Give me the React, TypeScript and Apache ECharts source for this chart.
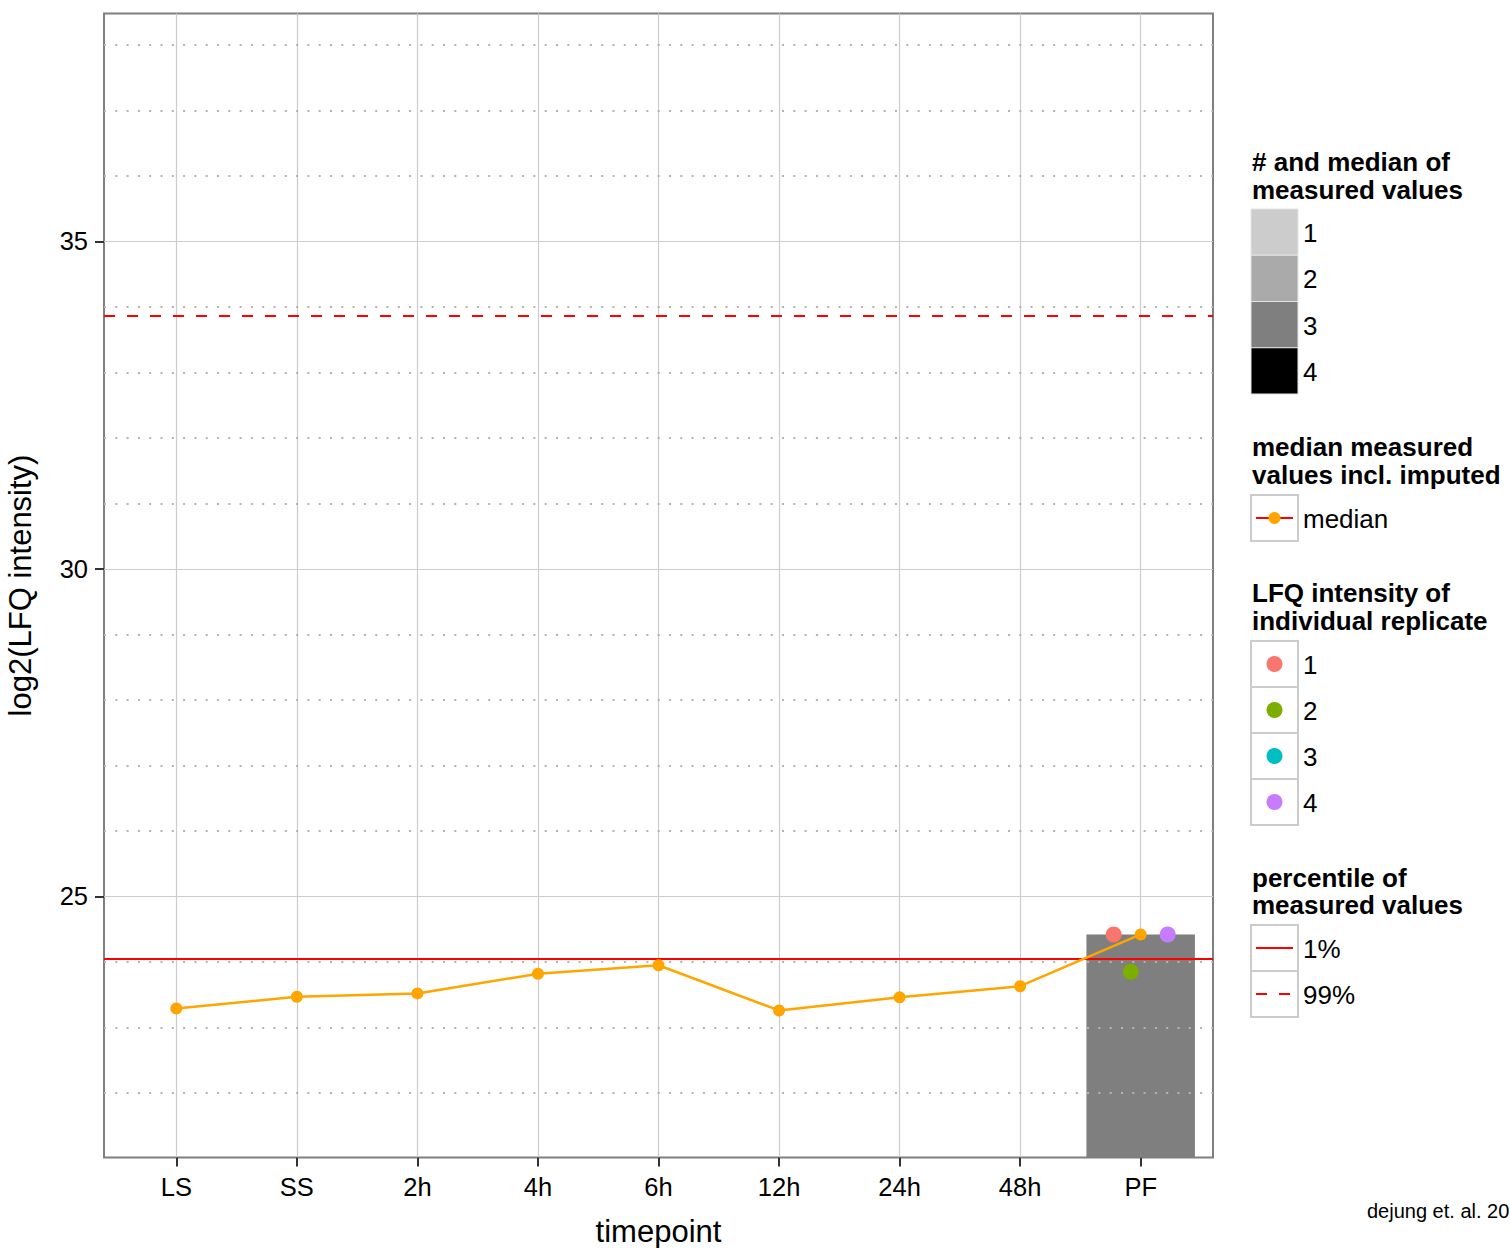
import React, { useEffect, useRef } from "react";
import * as echarts from "echarts";

const timepoints = ["LS", "SS", "2h", "4h", "6h", "12h", "24h", "48h", "PF"];
const medianValues = [23.29, 23.47, 23.52, 23.82, 23.95, 23.26, 23.46, 23.63, 24.42];
const measuredCount = [0, 0, 0, 0, 0, 0, 0, 0, 3];
const measuredMedian = [null, null, null, null, null, null, null, null, 24.42];
const replicateIds = ["1", "2", "3", "4"];
const replicateColors = ["#F8766D", "#7CAE00", "#00BFC4", "#C77CFF"];
// replicate values at PF (only PF has measured replicates)
const replicatePF = [24.42, 23.85, null, 24.42];
const replicateJitter = [-0.224, -0.083, 0.0, 0.224];
const percentileLabels = ["1%", "99%"];
const percentileValues = [24.05, 33.87];
const countLevels = ["1", "2", "3", "4"];
const countFills = ["#cccccc", "#aaaaaa", "#7f7f7f", "#000000"];
const yTicks = [25, 30, 35];
const yMinor = [22, 23, 24, 26, 27, 28, 29, 31, 32, 33, 34, 36, 37, 38];
const xTicks = [1, 2, 3, 4, 5, 6, 7, 8, 9];

const Y_MIN = 21.015;
const Y_MAX = 38.48;
const FONT = '"Liberation Sans", Arial, Helvetica, sans-serif';

function buildLegend(): any[] {
  const els: any[] = [];
  const kx = 1251;
  const kw = 47;
  const lx = 1303;
  const title = (t: string, y: number) =>
    els.push({
      type: "text",
      x: 1252,
      y,
      style: { text: t, fontSize: 26, fontWeight: "bold", fontFamily: FONT, fill: "#000", verticalAlign: "middle" },
    });
  const label = (t: string, y: number) =>
    els.push({
      type: "text",
      x: lx,
      y,
      style: { text: t, fontSize: 26, fontFamily: FONT, fill: "#000", verticalAlign: "middle" },
    });
  const box = (y: number) =>
    els.push({
      type: "rect",
      shape: { x: kx, y, width: kw, height: 46 },
      style: { fill: "#fff", stroke: "#cccccc", lineWidth: 2 },
    });

  // counts legend
  title("# and median of", 162);
  title("measured values", 190);
  countLevels.forEach((lv, i) => {
    const y = 209 + i * 46.25;
    els.push({
      type: "rect",
      shape: { x: kx, y, width: kw, height: 46.25 },
      style: { fill: countFills[i], stroke: "#e4e4e4", lineWidth: 1 },
    });
    label(lv, y + 24);
  });

  // median legend
  title("median measured", 447);
  title("values incl. imputed", 475);
  box(495);
  els.push({
    type: "line",
    shape: { x1: 1256, y1: 518, x2: 1293, y2: 518 },
    style: { stroke: "#FF0000", lineWidth: 2.2 },
  });
  els.push({ type: "circle", shape: { cx: 1274.5, cy: 518, r: 6 }, style: { fill: "#FFA500" } });
  label("median", 519);

  // replicate legend
  title("LFQ intensity of", 593);
  title("individual replicate", 621);
  replicateIds.forEach((id, i) => {
    const y = 641 + i * 46;
    box(y);
    els.push({ type: "circle", shape: { cx: 1274.5, cy: y + 23, r: 8 }, style: { fill: replicateColors[i] } });
    label(id, y + 24);
  });

  // percentile legend
  title("percentile of", 878);
  title("measured values", 905);
  percentileLabels.forEach((p, i) => {
    const y = 925 + i * 46;
    box(y);
    els.push({
      type: "line",
      shape: { x1: 1256, y1: y + 23, x2: 1293, y2: y + 23 },
      style: { stroke: "#FF0000", lineWidth: 2.2, lineDash: i === 0 ? null : [11, 12] },
    });
    label(p, y + 24);
  });

  // caption
  els.push({
    type: "text",
    x: 1367,
    y: 1211,
    style: { text: "dejung et. al. 20", fontSize: 20, fontFamily: FONT, fill: "#000", verticalAlign: "middle" },
  });
  return els;
}

export default function App() {
  const ref = useRef<HTMLDivElement>(null);
  useEffect(() => {
    if (!ref.current) return;
    const chart = echarts.init(ref.current, null, { renderer: "svg" });

    const barData = timepoints
      .map((_, i) => [i + 1, measuredMedian[i], measuredCount[i]])
      .filter((d) => (d[2] as number) > 0);

    const replicateSeries = replicateIds.map((id, r) => ({
      name: "replicate " + id,
      type: "scatter",
      symbol: "circle",
      symbolSize: 16,
      itemStyle: { color: replicateColors[r], opacity: 1 },
      z: 6,
      data: replicatePF[r] == null ? [] : [[9 + replicateJitter[r], replicatePF[r]]],
    }));

    const option: any = {
      animation: false,
      backgroundColor: "#ffffff",
      textStyle: { fontFamily: FONT },
      grid: {
        left: 104,
        top: 13.5,
        width: 1109,
        height: 1144,
        containLabel: false,
        outerBoundsMode: "none",
        show: true,
        borderColor: "#7f7f7f",
        borderWidth: 2,
        backgroundColor: "#ffffff",
      },
      xAxis: {
        type: "value",
        min: 0.4,
        max: 9.6,
        name: "timepoint",
        nameLocation: "middle",
        nameGap: 58,
        nameTextStyle: { fontSize: 31, color: "#000", fontFamily: FONT },
        axisLine: { show: false },
        axisTick: { show: true, customValues: xTicks, length: 9, lineStyle: { color: "#333", width: 2 } },
        axisLabel: {
          customValues: xTicks,
          formatter: (v: number) => timepoints[Math.round(v) - 1] || "",
          fontSize: 25.5,
          color: "#000",
          fontFamily: FONT,
          margin: 16,
        },
        splitLine: { show: true, lineStyle: { color: "#cccccc", width: 1.2 } },
      },
      yAxis: {
        type: "value",
        min: Y_MIN,
        max: Y_MAX,
        name: "log2(LFQ intensity)",
        nameLocation: "middle",
        nameGap: 68,
        nameRotate: 90,
        nameTextStyle: { fontSize: 31, color: "#000", fontFamily: FONT },
        axisLine: { show: false },
        axisTick: { show: true, customValues: yTicks, length: 9, lineStyle: { color: "#333", width: 2 } },
        axisLabel: { customValues: yTicks, fontSize: 25.5, color: "#000", fontFamily: FONT, margin: 16 },
        splitLine: { show: true, lineStyle: { color: "#cccccc", width: 1.2 } },
      },
      series: [
        {
          name: "minor",
          type: "line",
          data: [],
          z: 1,
          markLine: {
            silent: true,
            symbol: ["none", "none"],
            label: { show: false },
            lineStyle: { color: "#b3b3b3", width: 2, type: [2, 9.3] },
            data: yMinor.map((v) => ({ yAxis: v })),
          },
        },
        {
          name: "measured count",
          type: "custom",
          z: 2,
          encode: { x: 0, y: 1 },
          data: barData,
          renderItem: (params: any, api: any) => {
            const x = api.value(0);
            const y = api.value(1);
            const n = api.value(2);
            const p1 = api.coord([x - 0.45, y]);
            const p2 = api.coord([x + 0.45, Y_MIN]);
            return {
              type: "rect",
              shape: { x: p1[0], y: p1[1], width: p2[0] - p1[0], height: p2[1] - p1[1] },
              style: { fill: countFills[n - 1] },
            };
          },
        },
        {
          name: "percentile",
          type: "line",
          data: [],
          z: 3,
          markLine: {
            silent: true,
            symbol: ["none", "none"],
            label: { show: false },
            data: percentileValues.map((v, i) => ({
              yAxis: v,
              lineStyle: { color: "#FF0000", width: 2.2, type: i === 0 ? "solid" : [11, 12] },
            })),
          },
        },
        {
          name: "median",
          type: "line",
          z: 5,
          data: medianValues.map((v, i) => [i + 1, v]),
          symbol: "circle",
          symbolSize: 12,
          showAllSymbol: true,
          lineStyle: { color: "#FFA500", width: 2.5 },
          itemStyle: { color: "#FFA500" },
        },
        ...replicateSeries,
      ],
      graphic: buildLegend(),
    };
    chart.setOption(option);
    return () => chart.dispose();
  }, []);

  return (
    <div
      ref={ref}
      style={{ position: "absolute", left: 0, top: 0, width: 1510, height: 1248, background: "#fff" }}
    />
  );
}
